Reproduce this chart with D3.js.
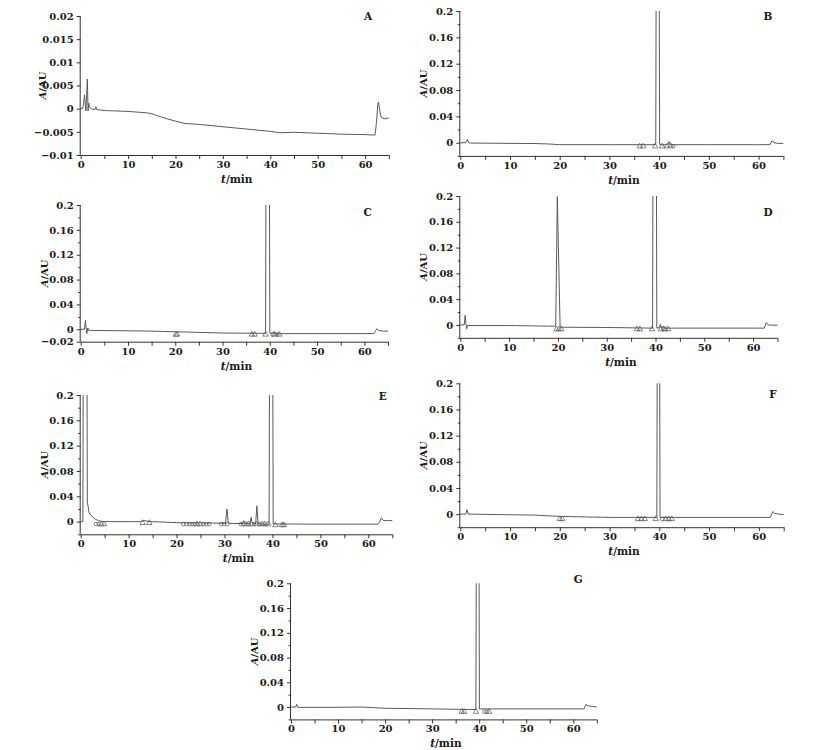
<!DOCTYPE html>
<html><head><meta charset="utf-8">
<script src="https://cdn.jsdelivr.net/npm/d3@7"></script>
<style>body{margin:0;background:#fff}</style>
</head><body><svg id="c" width="834" height="750"></svg>
<script>
// ---------------- DATA (time in min, absorbance in AU) ----------------
const xTicks = [0,5,10,15,20,25,30,35,40,45,50,55,60,65];
const xLabels = [0,10,20,30,40,50,60];
const yDomainA = [-0.01, 0.02];
const yTicksA = [-0.01,-0.005,0,0.005,0.01,0.015,0.02];
const yDomainMain = [-0.02, 0.2];
const yMajorMain = [0,0.04,0.08,0.12,0.16,0.2];
const yMinorMain = [-0.02,0.02,0.06,0.1,0.14,0.18];

const traceA = [[0,0],[0.4,0],[0.6,0.001],[0.8,0.003],[0.95,0.0012],[1.1,-0.0005],[1.25,0.003],[1.4,0.0064],[1.55,-0.0005],[1.7,0.0012],[1.85,0.0003],[2.3,-0.0001],[3.0,-0.0002],[3.2,0.0004],[3.4,-0.0002],[5,-0.0004],[10,-0.0006],[14,-0.0009],[15,-0.0011],[17,-0.0018],[20,-0.0027],[22,-0.0032],[25,-0.0034],[30,-0.0039],[35,-0.0044],[40,-0.0049],[42,-0.0052],[45,-0.0051],[50,-0.0053],[55,-0.0055],[60,-0.0056],[62.1,-0.0057],[62.4,-0.003],[62.7,0.0012],[62.85,0.0014],[63.1,-0.0005],[63.4,-0.0018],[64,-0.0022],[65,-0.002]];
const traceB = [[0,0],[1.1,0],[1.4,0.005],[1.7,0],[2,-0.0005],[10,-0.001],[15,-0.0012],[18,-0.002],[20,-0.003],[30,-0.003],[36,-0.003],[39.32,-0.003],[39.42,0.3],[39.7,1.2],[40.0,0.3],[40.1,-0.003],[41.7,-0.003],[41.95,0.002],[42.2,-0.003],[50,-0.003],[60,-0.003],[62.3,-0.003],[62.7,0.003],[63.1,0.0],[64,-0.001],[65,-0.001]];
const traceC = [[0,0],[0.8,0],[1.0,0.014],[1.15,0.002],[1.3,-0.007],[1.5,0.002],[1.7,-0.002],[2,-0.0018],[10,-0.0025],[15,-0.003],[20,-0.004],[30,-0.006],[39.1,-0.0065],[39.2,0.3],[39.55,1.2],[39.9,0.3],[40.0,-0.006],[40.5,-0.007],[40.8,-0.004],[41.1,-0.007],[45,-0.007],[62,-0.007],[62.4,-0.002],[62.65,0.001],[63,-0.002],[64,-0.003],[65,-0.003]];
const traceD = [[0,0],[0.8,0],[1.0,0.015],[1.15,0.002],[1.3,-0.006],[1.5,-0.001],[10,-0.001],[19,-0.002],[19.55,-0.002],[19.88,0.199],[20.45,-0.003],[20.6,-0.0036],[30,-0.004],[39.4,-0.005],[39.5,0.3],[39.85,1.2],[40.17,0.3],[40.27,-0.005],[40.8,-0.004],[41.0,0.001],[41.2,-0.005],[41.6,-0.002],[41.8,-0.005],[45,-0.005],[60,-0.005],[62.3,-0.005],[62.7,0.0036],[63.1,0.0],[64,-0.0005],[65,-0.0005]];
const traceE = [[0,0],[0.45,0],[0.55,0.3],[0.9,1.5],[1.3,0.3],[1.38,0.03],[1.5,0.026],[1.7,0.016],[2.0,0.011],[2.4,0.008],[3.0,0.004],[3.7,0.0016],[4.5,0.0003],[5,0],[10,0],[12.5,0],[13.2,0.0018],[14,0.0005],[15,0],[20,-0.0016],[25,-0.002],[30.2,-0.0026],[30.5,0.02],[30.8,-0.0026],[33,-0.003],[33.8,-0.003],[34.0,0.0016],[34.2,-0.003],[35.3,-0.003],[35.55,0.0068],[35.8,-0.003],[36.5,-0.003],[36.75,0.025],[37.0,-0.003],[38,-0.004],[39.3,-0.004],[39.4,0.3],[39.75,1.2],[40.05,0.3],[40.15,-0.0037],[42,-0.0037],[50,-0.004],[62,-0.004],[62.4,0.0],[62.7,0.006],[63.1,0.002],[64,0.0016],[65,0.0016]];
const traceF = [[0,0],[1.1,0],[1.35,0.0066],[1.6,0],[2,0],[10,-0.001],[15,-0.0015],[20,-0.0035],[30,-0.005],[39.5,-0.005],[39.6,0.3],[39.85,1.2],[40.05,0.3],[40.15,-0.005],[41,-0.005],[50,-0.005],[62.3,-0.005],[62.8,0.004],[63.2,0.001],[64,0],[65,-0.0005]];
const traceG = [[0,0],[1.0,0],[1.2,0.0043],[1.45,-0.0005],[2,-0.0005],[10,-0.0005],[15,0],[20,-0.002],[30,-0.003],[38,-0.004],[39.3,-0.004],[39.4,0.3],[39.7,1.2],[39.95,0.3],[40.05,-0.003],[42,-0.003],[50,-0.003],[62.3,-0.003],[62.7,0.0043],[63.1,0.002],[64,0.001],[65,0]];

// integration markers: [time, absorbance, type] (t = triangle, c = circle)
const markersA = [];
const markersB = [[36.1,-0.0055,'t'],[36.8,-0.0055,'t'],[39.2,-0.0055,'t'],[40.6,-0.0055,'t'],[41.6,-0.0055,'t'],[42.3,-0.0045,'t'],[42.8,-0.0055,'c']];
const markersC = [[20.1,-0.0085,'t'],[20.4,-0.0085,'t'],[36.2,-0.0085,'t'],[36.8,-0.0085,'t'],[39.1,-0.0085,'t'],[40.6,-0.0085,'c'],[41.0,-0.0085,'t'],[41.5,-0.0085,'c'],[42.0,-0.0085,'t']];
const markersD = [[19.7,-0.0067,'t'],[20.2,-0.0067,'t'],[20.7,-0.0067,'t'],[36.2,-0.0067,'t'],[36.8,-0.0067,'t'],[39.3,-0.0067,'t'],[41.1,-0.0067,'t'],[41.6,-0.0067,'c'],[42.0,-0.0067,'t'],[42.6,-0.0067,'t']];
const markersE = [[3.2,-0.004,'c'],[3.76,-0.004,'c'],[4.3,-0.004,'t'],[4.87,-0.004,'t'],[12.9,-0.002,'t'],[14.3,-0.002,'t'],[21.4,-0.004,'c'],[22.1,-0.004,'c'],[22.7,-0.004,'c'],[23.2,-0.004,'c'],[23.8,-0.004,'c'],[24.3,-0.004,'t'],[24.9,-0.004,'t'],[25.6,-0.004,'c'],[26.2,-0.004,'c'],[26.8,-0.004,'c'],[29.3,-0.004,'c'],[29.9,-0.004,'c'],[30.6,-0.004,'c'],[33.4,-0.004,'c'],[33.9,-0.004,'c'],[34.5,-0.004,'t'],[35.0,-0.004,'t'],[35.6,-0.004,'c'],[36.2,-0.004,'c'],[36.7,-0.004,'t'],[37.3,-0.004,'c'],[37.9,-0.004,'t'],[38.4,-0.004,'t'],[39.1,-0.004,'t'],[40.6,-0.0055,'t'],[42.0,-0.0055,'t'],[42.4,-0.0055,'t']];
const markersF = [[20.0,-0.0076,'t'],[20.5,-0.0076,'t'],[35.7,-0.0076,'t'],[36.4,-0.0076,'t'],[37.1,-0.0076,'t'],[39.3,-0.0076,'t'],[40.6,-0.0076,'c'],[41.3,-0.0076,'t'],[41.9,-0.0076,'t'],[42.5,-0.0076,'t']];
const markersG = [[36.3,-0.0076,'t'],[36.8,-0.0076,'t'],[39.3,-0.0076,'t'],[41.1,-0.0076,'c'],[41.6,-0.0076,'c'],[42.1,-0.0076,'t']];

const panelNames = ['A','B','C','D','E','F','G'];
const traces = {A:traceA,B:traceB,C:traceC,D:traceD,E:traceE,F:traceF,G:traceG};
const markers = {A:markersA,B:markersB,C:markersC,D:markersD,E:markersE,F:markersF,G:markersG};

// ---------------- LAYOUT ----------------
const layout = {
  A:{l:80.7,r:388.8,t:16,b:155, lx:368, ly:20},
  B:{l:460.3,r:783.4,t:11,b:155.9, lx:768, ly:20},
  C:{l:80.7,r:388,t:205,b:341.7, lx:367.7, ly:215.7},
  D:{l:460.3,r:777.5,t:196,b:337.8, lx:768, ly:216},
  E:{l:80.7,r:392.3,t:395,b:534.3, lx:382.7, ly:400},
  F:{l:460.3,r:783.7,t:383.3,b:527.2, lx:773, ly:397.7},
  G:{l:291,r:596.8,t:583.3,b:719.4, lx:578.3, ly:583.3}
};
const FONT = '"DejaVu Serif", serif';
const axisColor = '#333', lineColor = '#5a5a5a', textColor = '#1a1a1a';

const svg = d3.select('#c');
const fmt = d => d === 0 ? '0' : d3.format('')(+d.toPrecision(6));

panelNames.forEach(name => {
  const L = layout[name];
  const isA = name === 'A';
  const x = d3.scaleLinear().domain([0,65]).range([L.l, L.r]);
  const y = d3.scaleLinear().domain(isA ? yDomainA : yDomainMain).range([L.b, L.t]);
  const g = svg.append('g');

  const cid = 'clip' + name;
  svg.append('clipPath').attr('id', cid).append('rect')
    .attr('x', L.l).attr('y', L.t).attr('width', L.r - L.l + 1).attr('height', L.b - L.t);

  g.append('path').datum(traces[name])
    .attr('clip-path', `url(#${cid})`)
    .attr('fill','none').attr('stroke', lineColor).attr('stroke-width', 1)
    .attr('stroke-linejoin','round')
    .attr('d', d3.line().x(d => x(d[0])).y(d => y(d[1])));

  const sym = d3.symbol();
  g.selectAll('path.mk').data(markers[name]).join('path').attr('class','mk')
    .attr('transform', d => `translate(${x(d[0])},${y(d[1])})`)
    .attr('d', d => sym.type(d[2] === 't' ? d3.symbolTriangle : d3.symbolCircle).size(d[2]==='t' ? 13 : 11)())
    .attr('fill','none').attr('stroke', '#555').attr('stroke-width', 0.7);

  const xAxis = d3.axisBottom(x).tickValues(xTicks).tickSize(4).tickPadding(2)
    .tickFormat(d => xLabels.includes(d) ? d : '');
  const gx = g.append('g').attr('transform', `translate(0,${L.b})`).call(xAxis);

  let gy;
  if (isA) {
    gy = g.append('g').attr('transform', `translate(${L.l},0)`)
      .call(d3.axisLeft(y).tickValues(yTicksA).tickSize(4).tickPadding(3).tickFormat(fmt));
  } else {
    const minor = name === 'C' ? yMinorMain.filter(v => v !== -0.02) : yMinorMain;
    const major = name === 'C' ? [-0.02].concat(yMajorMain) : yMajorMain;
    gy = g.append('g').attr('transform', `translate(${L.l},0)`)
      .call(d3.axisLeft(y).tickValues(major).tickSize(4).tickPadding(3).tickFormat(fmt));
    g.append('g').attr('transform', `translate(${L.l},0)`)
      .call(d3.axisLeft(y).tickValues(minor).tickSize(2.5).tickFormat(''))
      .call(s => s.select('.domain').remove())
      .selectAll('line').attr('stroke', axisColor);
  }
  [gx, gy].forEach(a => {
    a.select('.domain').attr('stroke', axisColor).attr('stroke-width', 1);
    a.selectAll('.tick line').attr('stroke', axisColor);
    a.selectAll('text').attr('font-family', FONT).attr('font-weight','bold')
      .attr('font-size', '10px').attr('fill', textColor);
  });
  gx.select('.domain').attr('d', `M${L.l},0.5H${L.r}`);
  gy.select('.domain').attr('d', `M-0.5,${L.t}V${L.b}`);

  const xt = g.append('text').attr('x', (L.l + L.r)/2 + 2).attr('y', L.b + 28)
    .attr('text-anchor','middle').attr('font-family', FONT).attr('font-weight','bold')
    .attr('font-size','10.5px').attr('fill', textColor);
  xt.append('tspan').attr('font-style','italic').text('t');
  xt.append('tspan').text('/min');

  const yx = L.l - (isA ? 39 : 37), yy = (L.t + L.b)/2;
  const yt = g.append('text').attr('transform', `translate(${yx + 4},${yy}) rotate(-90)`)
    .attr('text-anchor','middle').attr('font-family', FONT).attr('font-weight','bold')
    .attr('font-size','10px').attr('fill', textColor);
  yt.append('tspan').attr('font-style','italic').text('A');
  yt.append('tspan').text('/AU');

  g.append('text').attr('x', L.lx).attr('y', L.ly).attr('text-anchor','middle')
    .attr('font-family', FONT).attr('font-weight','bold').attr('font-size','10.5px')
    .attr('fill', textColor).text(name);
});
</script>
</body></html>
